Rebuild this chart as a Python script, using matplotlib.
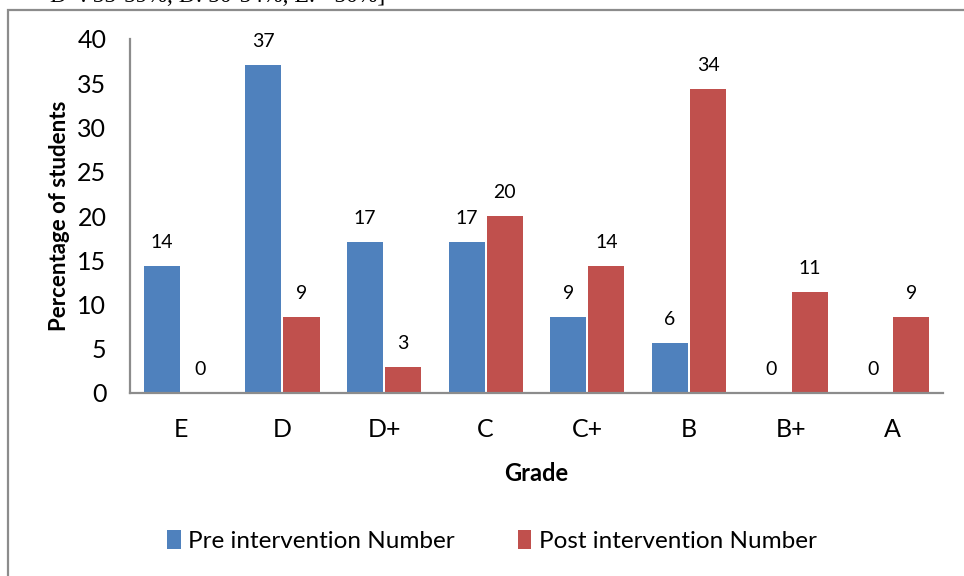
import numpy as np
import matplotlib
matplotlib.use('Agg')
import matplotlib.pyplot as plt
from matplotlib.patches import Rectangle

plt.rcParams['font.family'] = ['Lato', 'DejaVu Sans']

# Dados
grades = ['E', 'D', 'D+', 'C', 'C+', 'B', 'B+', 'A']
pre = [14.3, 37.1, 17.1, 17.1, 8.6, 5.7, 0, 0]
post = [0, 8.6, 2.9, 20.0, 14.3, 34.3, 11.4, 8.6]
pre_labels = [14, 37, 17, 17, 9, 6, 0, 0]
post_labels = [0, 9, 3, 20, 14, 34, 11, 9]

W, H = 964, 576
fig = plt.figure(figsize=(W / 100, H / 100), dpi=100)

# moldura do gráfico (cortada à direita e embaixo)
fig.patches.append(Rectangle((8 / W, -0.05), 1.2, 1 - 10 / H + 0.05, transform=fig.transFigure,
                             fill=False, edgecolor='#8c8c8c', linewidth=1.6))

# texto cortado no topo
fig.text(50 / W, 1.0 + 3 / H, 'D+: 55-59%, D: 50-54%, E: <50%]', family='Liberation Serif',
         fontsize=17, ha='left', va='center')

ax = fig.add_axes([130 / W, 1 - 393 / H, (943 - 130) / W, (393 - 39) / H])
x = np.arange(len(grades))
bw = 0.355
b1 = ax.bar(x - bw / 2 - 0.01, pre, bw, color='#4F81BD', label='Pre intervention Number')
b2 = ax.bar(x + bw / 2 + 0.01, post, bw, color='#C0504D', label='Post intervention Number')

for bars, labs in [(b1, pre_labels), (b2, post_labels)]:
    for bar, lab in zip(bars, labs):
        ax.text(bar.get_x() + bar.get_width() / 2, bar.get_height() + 1.7, str(lab),
                ha='center', va='bottom', fontsize=14)

ax.set_xlim(-0.5, 7.5)
ax.set_ylim(0, 40)
ax.set_yticks(range(0, 41, 5))
ax.set_xticks(x)
ax.set_xticklabels(grades)
ax.tick_params(axis='both', length=0, labelsize=18)
ax.tick_params(axis='y', pad=17)
ax.tick_params(axis='x', pad=18)
for s in ['top', 'right']:
    ax.spines[s].set_visible(False)
for s in ['left', 'bottom']:
    ax.spines[s].set_color('#8c8c8c')
    ax.spines[s].set_linewidth(1.6)

ax.set_xlabel('Grade', fontsize=17, fontweight='bold', labelpad=15)
ax.set_ylabel('Percentage of students', fontsize=16, fontweight='bold')
ax.yaxis.set_label_coords(-60 / (943 - 130), 0.5)

fig.legend(handles=[b1, b2], loc='center', bbox_to_anchor=(492 / W, 1 - 541 / H), ncol=2,
           frameon=False, fontsize=17.5, handlelength=0.55, handleheight=0.8, handletextpad=0.3,
           columnspacing=2.6)

fig.savefig('out.png', dpi=100)
